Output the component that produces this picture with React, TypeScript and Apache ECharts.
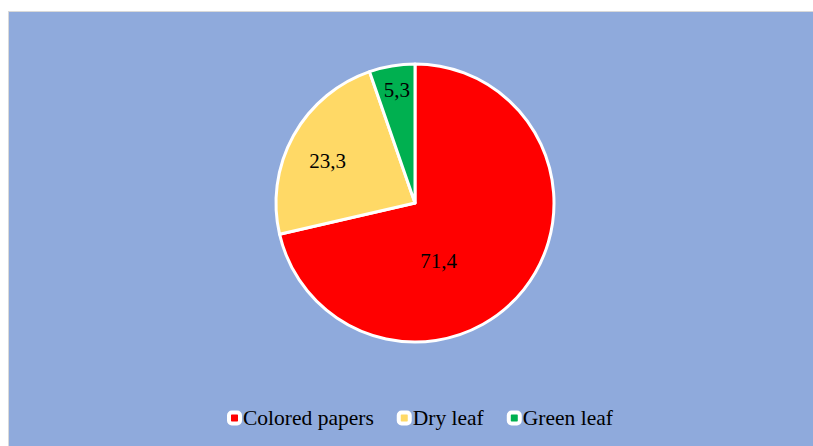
import React, { useEffect, useRef } from "react";
import * as echarts from "echarts";

const categories = ["Colored papers", "Dry leaf", "Green leaf"];
const values = [71.4, 23.3, 5.3];
const colors = ["#FF0000", "#FFD966", "#00B050"];
const labelOffsets: [number, number][] = [[-33, 13], [-24, -7], [-6, -42]];

export default function App() {
  const ref = useRef<HTMLDivElement>(null);
  useEffect(() => {
    if (!ref.current) return;
    const chart = echarts.init(ref.current, undefined, { renderer: "svg" });
    const font = "'Liberation Serif', 'Times New Roman', serif";
    chart.setOption({
      animation: false,
      backgroundColor: "#8FAADC",
      legend: {
        left: 213,
        top: 390,
        icon: "roundRect",
        itemWidth: 11,
        itemHeight: 11,
        itemGap: 23,
        itemStyle: { borderColor: "#FFFFFF", borderWidth: 4 },
        textStyle: { fontFamily: font, fontSize: 21.5, color: "#000", padding: [0, 0, 0, -2] },
        data: categories,
      },
      series: [
        {
          type: "pie",
          center: [406, 191],
          radius: [0, 139],
          startAngle: 90,
          clockwise: true,
          emphasis: { disabled: true },
          labelLine: { show: false },
          itemStyle: { borderColor: "#FFFFFF", borderWidth: 3 },
          label: {
            show: true,
            position: "inside",
            fontFamily: font,
            fontSize: 21,
            color: "#000",
            formatter: (p: any) => String(p.value).replace(".", ","),
          },
          data: categories.map((name, i) => ({
            name,
            value: values[i],
            itemStyle: { color: colors[i] },
            label: { offset: labelOffsets[i] },
          })),
        },
      ],
    });
    return () => chart.dispose();
  }, []);
  return (
    <div
      style={{
        position: "absolute",
        left: 8,
        top: 11,
        borderLeft: "1px solid #D9D9D9",
        borderTop: "1px solid #D9D9D9",
      }}
    >
      <div ref={ref} style={{ width: 804, height: 434 }} />
    </div>
  );
}
